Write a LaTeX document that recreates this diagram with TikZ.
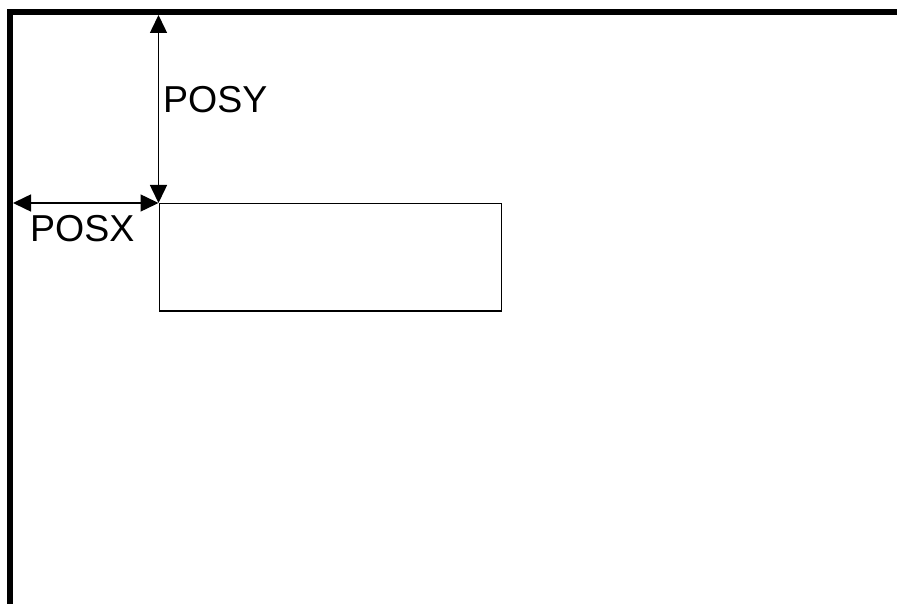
\documentclass[tikz,border=0pt]{standalone}
\usepackage{fontspec}
\setmainfont{Liberation Sans}
\usetikzlibrary{arrows.meta}
\begin{document}
\begin{tikzpicture}[x=1pt,y=-1pt,
  frame/.style={line width=6pt},
  dim/.style={line width=1.5pt,{Triangle[length=18pt,width=17pt]}-{Triangle[length=18pt,width=17pt]}},
  lbl/.style={inner sep=0pt,anchor=base west,font=\fontsize{37.5}{40}\selectfont}]
\useasboundingbox[fill=white] (0,0) rectangle (897,604);
\draw[frame] (10,604) -- (10,12) -- (897,12);
\node[draw,line width=1.5pt,minimum width=342pt,minimum height=107pt,inner sep=0pt,anchor=north west] (box) at (158.5,203) {};
\coordinate (topend) at (158.5,15);
\coordinate (leftend) at (13,203);
\draw[dim] (topend) -- (box.north west);
\draw[dim] (leftend) -- (box.north west);
\node[lbl] (posy) at (163,113) {POSY};
\node[lbl] (posx) at (30,242) {POSX};
\end{tikzpicture}
\end{document}
